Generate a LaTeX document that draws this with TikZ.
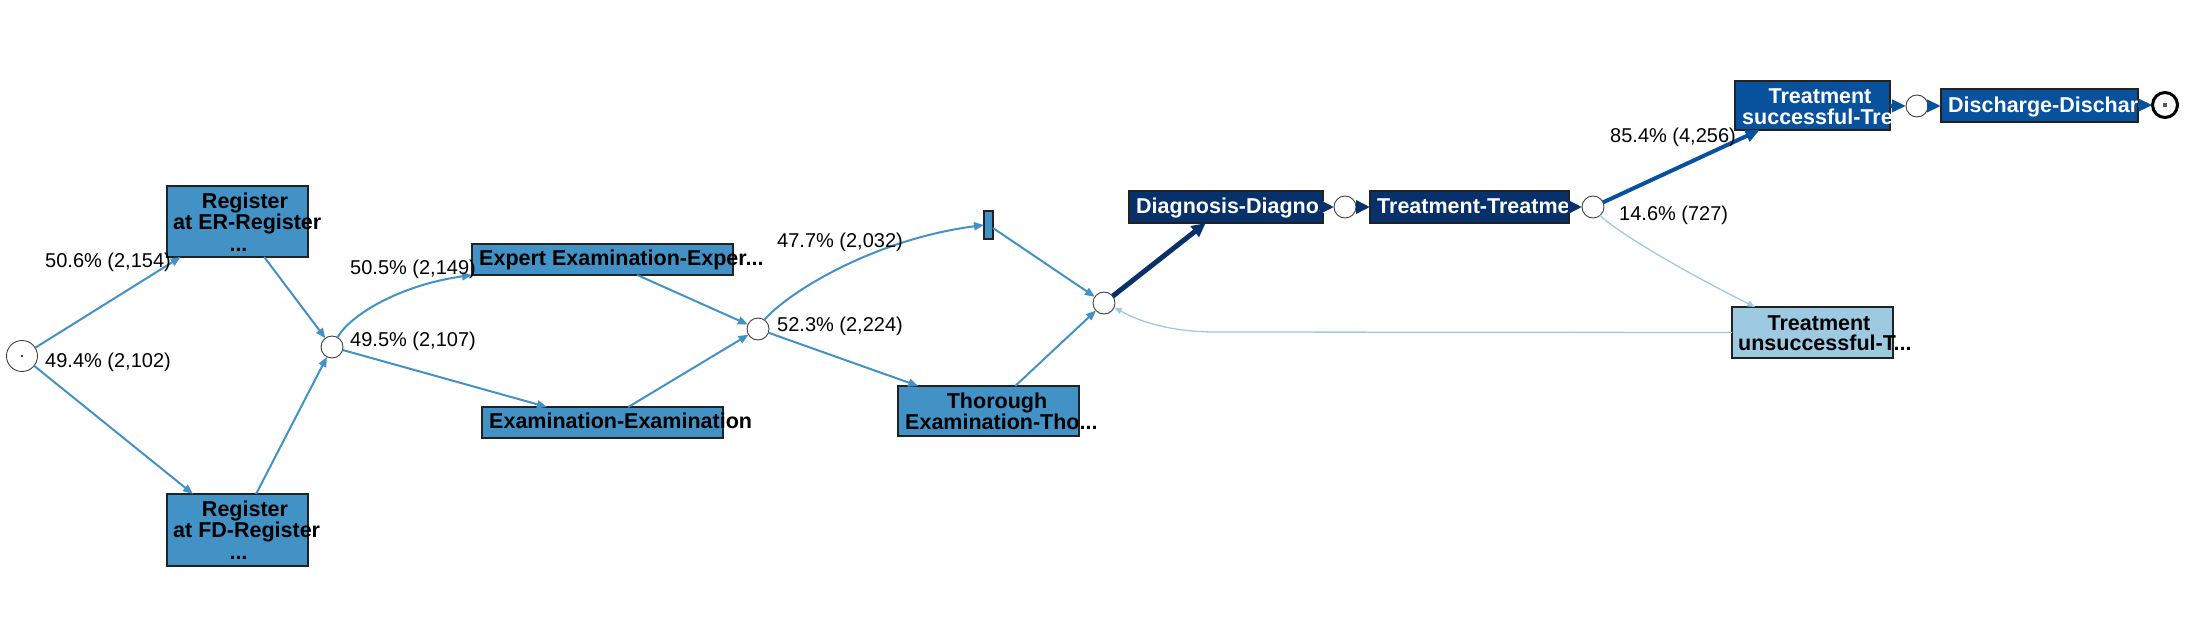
\documentclass[tikz,border=0pt]{standalone}
\usepackage{fontspec}
\setmainfont{Liberation Sans}
\usetikzlibrary{arrows.meta}
\definecolor{bMid}{RGB}{66,146,198}
\definecolor{bLight}{RGB}{158,202,225}
\definecolor{bNavy}{RGB}{8,48,107}
\definecolor{bDark}{RGB}{8,81,156}
\definecolor{bBorder}{RGB}{34,34,34}
\begin{document}
\begin{tikzpicture}[x=1pt,y=-1pt,
  act/.style={rectangle, draw=bBorder, line width=1.4pt, inner sep=0pt, outer sep=0pt},
  gw/.style={circle, draw=black!75, line width=0.9pt, fill=white, inner sep=0pt, outer sep=0pt, minimum size=22pt},
  btxt/.style={font=\bfseries\fontsize{21.5}{21.5}\selectfont, inner sep=0pt, anchor=base},
  wtxt/.style={btxt, text=white},
  lab/.style={font=\fontsize{20}{20}\selectfont, inner sep=0pt, anchor=base west},
  thinE/.style={draw=bMid, line width=2pt, -{Triangle[length=10pt,width=8pt]}},
  lightE/.style={draw=bLight, line width=1.3pt, -{Triangle[length=8pt,width=6pt]}},
  navyE/.style={draw=bNavy, line width=5pt, -{Triangle[length=14pt,width=13pt]}},
  darkE/.style={draw=bDark, line width=4pt, -{Triangle[length=14pt,width=12pt]}}
]
\useasboundingbox (0,0) rectangle (2206,624);

% activity boxes
\node[act, fill=bMid, minimum width=141pt, minimum height=71pt] (er) at (237.5,221.5) {};
\node[act, fill=bMid, minimum width=141pt, minimum height=72pt] (fd) at (237.5,530) {};
\node[act, fill=bMid, minimum width=261pt, minimum height=31pt] (ex) at (602.5,259.5) {};
\node[act, fill=bMid, minimum width=241pt, minimum height=31pt] (exam) at (602.5,422.5) {};
\node[act, fill=bMid, minimum width=9pt, minimum height=28pt] (sm) at (988.5,225) {};
\node[act, fill=bMid, minimum width=181pt, minimum height=50pt] (th) at (988.5,411) {};
\node[act, fill=bNavy, minimum width=194pt, minimum height=32pt] (dia) at (1226,207) {};
\node[act, fill=bNavy, minimum width=199pt, minimum height=32pt] (tr) at (1469.5,207) {};
\node[act, fill=bDark, minimum width=155pt, minimum height=49pt] (ts) at (1812.5,105.5) {};
\node[act, fill=bDark, minimum width=197pt, minimum height=33pt] (dis) at (2039.5,105.5) {};
\node[act, fill=bLight, minimum width=161pt, minimum height=51pt] (tu) at (1812.5,332.5) {};

% box texts
\node[btxt] (erT1) at (245,208) {Register};
\node[btxt, anchor=base west] (erT2) at (173,229) {at ER-Register};
\node[btxt] (erT3) at (238.5,251) {...};
\node[btxt] (fdT1) at (245,516.5) {Register};
\node[btxt, anchor=base west] (fdT2) at (173,537.5) {at FD-Register};
\node[btxt] (fdT3) at (238.5,559.5) {...};
\node[btxt, anchor=base west] (exT) at (479,265) {Expert Examination-Exper...};
\node[btxt, anchor=base west] (examT) at (489,428.5) {Examination-Examination};
\node[btxt] (thT1) at (997,408) {Thorough};
\node[btxt, anchor=base west] (thT2) at (905,429) {Examination-Tho...};
\node[wtxt, anchor=base west] (diaT) at (1136,213) {Diagnosis-Diagnos};
\node[wtxt, anchor=base west] (trT) at (1377,213) {Treatment-Treatme};
\node[wtxt] (tsT1) at (1820,103) {Treatment};
\node[wtxt, anchor=base west] (tsT2) at (1742,124) {successful-Tre};
\node[wtxt, anchor=base west] (disT) at (1948,112) {Discharge-Dischar};
\node[btxt] (tuT1) at (1819,330) {Treatment};
\node[btxt, anchor=base west] (tuT2) at (1738,350) {unsuccessful-T...};

% gateways
\node[gw, minimum size=31pt] (start) at (22,356) {};
\fill[black] (start.center) circle (1.2pt);
\node[gw] (g2) at (332,347) {};
\node[gw] (g3) at (758,329) {};
\node[gw] (g4) at (1104,303) {};
\node[gw] (g5) at (1345,207) {};
\node[gw] (g6) at (1593,207) {};
\node[gw] (g7) at (1917,106) {};
\node[circle, draw=black, line width=3pt, fill=white, inner sep=0pt, outer sep=0pt, minimum size=25pt] (end) at (2165,105) {};
\fill[black!65] (2163,103) rectangle (2167,107);

% connectors
\draw[thinE] (start) -- (er);
\draw[thinE] (start) -- (fd);
\draw[thinE] (er) -- (g2);
\draw[thinE] (fd) -- (g2);
\draw[thinE] (g2.60) .. controls (350,315) and (400,285) .. (ex.south west);
\draw[thinE] (g2) -- (exam);
\draw[thinE] (ex) -- (g3);
\draw[thinE] (exam) -- (g3);
\draw[thinE] (g3.55) .. controls (785,295) and (870,240) .. (sm.west);
\draw[thinE] (g3) -- (th);
\draw[thinE] (sm) -- (g4);
\draw[thinE] (th) -- (g4);
\draw[navyE] (g4) -- (dia);
\draw[navyE] (dia) -- (g5);
\draw[navyE] (g5) -- (tr);
\draw[navyE] (tr) -- (g6);
\draw[darkE] (g6) -- (ts);
\draw[lightE] (g6.-50) .. controls (1620,235) and (1700,280) .. (tu.156.8);
\coordinate (fb) at (1216,332);
\draw[lightE] (tu.west) -- (fb) .. controls (1172,332) and (1140,322) .. (g4.-23);
\draw[darkE] (ts) -- (g7);
\draw[darkE] (g7) -- (dis);
\draw[darkE] (dis) -- (end);

% edge labels
\node[lab] (l1) at (45,267) {50.6\% (2,154)};
\node[lab] (l2) at (45,367) {49.4\% (2,102)};
\node[lab] (l3) at (350,274) {50.5\% (2,149)};
\node[lab] (l4) at (350,346) {49.5\% (2,107)};
\node[lab] (l5) at (777,247) {47.7\% (2,032)};
\node[lab] (l6) at (777,331) {52.3\% (2,224)};
\node[lab] (l7) at (1610,142) {85.4\% (4,256)};
\node[lab] (l8) at (1619,220) {14.6\% (727)};
\end{tikzpicture}
\end{document}
